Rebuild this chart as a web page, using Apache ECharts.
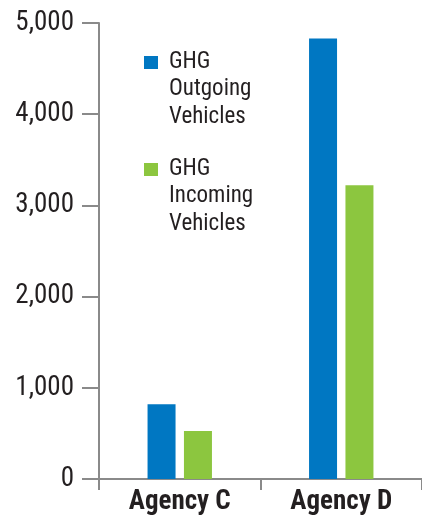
<!DOCTYPE html>
<html>
<head>
<meta charset="utf-8">
<script src="https://cdn.jsdelivr.net/npm/echarts@6/dist/echarts.min.js"></script>
<style>
html,body{margin:0;padding:0;background:#fff;}
#chart{width:422px;height:520px;}
</style>
</head>
<body>
<div id="chart"></div>
<script>
var categories = ['Agency C', 'Agency D'];
var outgoingName = 'GHG\nOutgoing\nVehicles';
var incomingName = 'GHG\nIncoming\nVehicles';
var outgoingValues = [820, 4830];
var incomingValues = [525, 3220];
var yTicks = [0, 1000, 2000, 3000, 4000, 5000];

var FONT = '"Liberation Sans Narrow", "Arial Narrow", "Roboto Condensed", sans-serif';
var BLUE = '#0077c2';
var GREEN = '#8cc63f';
var AXIS = '#8a8a8a';
var TEXT = '#231f20';

var chart = echarts.init(document.getElementById('chart'), null, {renderer: 'canvas'});

var legendItems = [
  {name: outgoingName, color: BLUE, y: 56},
  {name: incomingName, color: GREEN, y: 163}
];
var graphics = [];
legendItems.forEach(function (it) {
  graphics.push({
    type: 'rect', left: 144, top: it.y,
    shape: {width: 14, height: 13},
    style: {fill: it.color}
  });
  graphics.push({
    type: 'text', left: 169, top: it.y - 8,
    style: {
      text: it.name, fill: TEXT,
      font: '23px ' + FONT, lineHeight: 27.5
    }
  });
});

chart.setOption({
  animation: false,
  backgroundColor: '#fff',
  grid: {left: 99, right: -4, top: 23, bottom: 41, containLabel: false},
  xAxis: {
    type: 'category',
    data: categories,
    axisLine: {show: true, lineStyle: {color: AXIS, width: 2}},
    axisTick: {show: true, length: 11, lineStyle: {color: AXIS, width: 2}},
    axisLabel: {
      color: TEXT, fontFamily: FONT, fontSize: 27, fontWeight: 'bold', margin: 10
    },
    splitLine: {show: false}
  },
  yAxis: {
    type: 'value',
    min: yTicks[0], max: yTicks[yTicks.length - 1], interval: 1000,
    axisLine: {show: true, lineStyle: {color: AXIS, width: 2}},
    axisTick: {show: true, length: 17, lineStyle: {color: AXIS, width: 2}},
    axisLabel: {
      color: TEXT, fontFamily: FONT, fontSize: 27, margin: 25,
      formatter: function (v) { return v.toLocaleString('en-US'); }
    },
    splitLine: {show: false}
  },
  series: [
    {name: outgoingName, type: 'bar', data: outgoingValues, barWidth: 28, barGap: '30%',
     itemStyle: {color: BLUE}},
    {name: incomingName, type: 'bar', data: incomingValues, barWidth: 28, barGap: '30%',
     itemStyle: {color: GREEN}}
  ],
  graphic: graphics
});
</script>
</body>
</html>
